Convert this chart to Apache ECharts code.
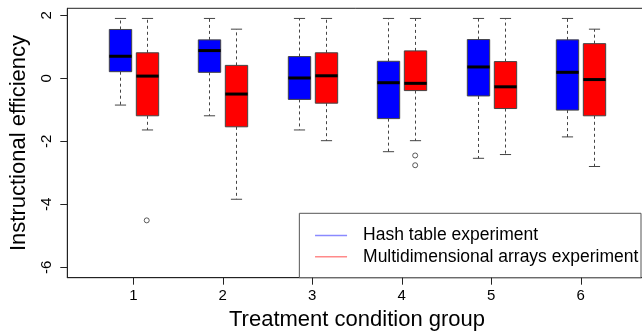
<!DOCTYPE html>
<html>
<head>
<meta charset="utf-8">
<script src="https://cdn.jsdelivr.net/npm/echarts@6/dist/echarts.min.js"></script>
<style>
html,body{margin:0;padding:0;background:#fff;}
#chart{width:642px;height:335px;}
</style>
</head>
<body>
<div id="chart"></div>
<script>
// ---- data ----
const groups = [1, 2, 3, 4, 5, 6];
const seriesNames = ['Hash table experiment', 'Multidimensional arrays experiment'];
// [lower whisker, Q1, median, Q3, upper whisker] per group
const hashStats = [
  [-0.85, 0.21, 0.70, 1.55, 1.90],
  [-1.19, 0.19, 0.88, 1.22, 1.90],
  [-1.64, -0.67, 0.01, 0.69, 1.90],
  [-2.33, -1.28, -0.14, 0.54, 1.90],
  [-2.54, -0.56, 0.36, 1.23, 1.90],
  [-1.86, -1.01, 0.19, 1.22, 1.90]
];
const arraysStats = [
  [-1.64, -1.19, 0.07, 0.81, 1.90],
  [-3.84, -1.54, -0.50, 0.41, 1.56],
  [-1.98, -0.79, 0.08, 0.81, 1.90],
  [-1.98, -0.39, -0.16, 0.87, 1.90],
  [-2.42, -0.96, -0.27, 0.53, 1.90],
  [-2.80, -1.19, -0.04, 1.10, 1.56]
];
// outliers: [group, value]
const hashOutliers = [];
const arraysOutliers = [[1, -4.51], [4, -2.45], [4, -2.76]];
const yTicks = [-6, -4, -2, 0, 2];
const xTicks = [1, 2, 3, 4, 5, 6];

// ---- layout / style constants ----
const DODGE = 0.15;
const BOX_W = 0.25;
const X_MIN = 0.2624, X_MAX = 6.7376;
const Y_MIN = -6.330, Y_MAX = 2.2222;
const TICK_LEN = 7;
const FONT = '"Liberation Sans", Arial, Helvetica, sans-serif';

function toItems(stats, off) {
  return stats.map((s, i) => [groups[i] + off].concat(s));
}
function toOut(list, off) {
  return list.map(p => [p[0] + off, p[1]]);
}

function renderBox(fill) {
  return function (params, api) {
    const x = api.value(0);
    const lo = api.coord([x, api.value(1)]);
    const q1 = api.coord([x, api.value(2)]);
    const md = api.coord([x, api.value(3)]);
    const q3 = api.coord([x, api.value(4)]);
    const hi = api.coord([x, api.value(5)]);
    const hw = api.size([BOX_W / 2, 0])[0];
    const cw = hw / 2;
    const cx = Math.round(md[0]) + 0.5;
    const dashStyle = { stroke: '#444', lineWidth: 1, lineDash: [3, 3] };
    const solid = { stroke: '#444', lineWidth: 1 };
    return {
      type: 'group',
      children: [
        { type: 'line', shape: { x1: cx, y1: q3[1], x2: cx, y2: hi[1] }, style: dashStyle },
        { type: 'line', shape: { x1: cx, y1: q1[1], x2: cx, y2: lo[1] }, style: dashStyle },
        { type: 'line', shape: { x1: cx - cw, y1: hi[1], x2: cx + cw, y2: hi[1] }, style: solid },
        { type: 'line', shape: { x1: cx - cw, y1: lo[1], x2: cx + cw, y2: lo[1] }, style: solid },
        { type: 'rect', shape: { x: cx - hw, y: q3[1], width: hw * 2, height: q1[1] - q3[1] },
          style: { fill: fill, stroke: '#444', lineWidth: 1 } },
        { type: 'line', shape: { x1: cx - hw, y1: md[1], x2: cx + hw, y2: md[1] },
          style: { stroke: '#000', lineWidth: 3 } }
      ]
    };
  };
}

// axis tick marks drawn through the axes' own scales
function renderXTick(params, api) {
  const p = api.coord([api.value(0), Y_MIN]);
  const x = Math.round(p[0]) + 0.5;
  return { type: 'line', shape: { x1: x, y1: p[1], x2: x, y2: p[1] + TICK_LEN },
           style: { stroke: '#222', lineWidth: 1 } };
}
function renderYTick(params, api) {
  const p = api.coord([X_MIN, api.value(1)]);
  const y = Math.round(p[1]) + 0.5;
  return { type: 'line', shape: { x1: p[0] - TICK_LEN, y1: y, x2: p[0], y2: y },
           style: { stroke: '#222', lineWidth: 1 } };
}

const chart = echarts.init(document.getElementById('chart'), null, { renderer: 'canvas' });
chart.setOption({
  animation: false,
  backgroundColor: '#fff',
  textStyle: { fontFamily: FONT },
  grid: {
    left: 67.3, right: -4.7, top: 8.3, bottom: 57.3,
    show: true, borderColor: '#222', borderWidth: 1, backgroundColor: 'transparent',
    outerBoundsMode: 'none'
  },
  legend: {
    orient: 'vertical',
    right: 1, bottom: 57.3,
    backgroundColor: '#fff',
    borderColor: '#555', borderWidth: 1, borderRadius: 0,
    padding: [13.2, 2.7, 12, 15.7],
    itemGap: 3.2,
    itemWidth: 32, itemHeight: 1.5,
    icon: 'rect',
    textStyle: { fontFamily: FONT, fontSize: 17.5, color: '#000', padding: [0, 0, 0, 11] },
    data: [
      { name: seriesNames[0], icon: 'rect', itemStyle: { color: '#8a8aff', borderWidth: 0 } },
      { name: seriesNames[1], icon: 'rect', itemStyle: { color: '#ff8a8a', borderWidth: 0 } }
    ]
  },
  xAxis: {
    type: 'value', min: X_MIN, max: X_MAX, position: 'bottom',
    name: 'Treatment condition group', nameLocation: 'middle', nameGap: 30,
    nameTextStyle: { fontSize: 22, color: '#000', fontFamily: FONT },
    axisLine: { show: true, onZero: false, lineStyle: { color: '#222', width: 1 } },
    splitLine: { show: false },
    axisTick: { show: false },
    axisLabel: { fontSize: 15, color: '#000', margin: 11, customValues: xTicks, fontFamily: FONT }
  },
  yAxis: {
    type: 'value', min: Y_MIN, max: Y_MAX, position: 'left',
    name: 'Instructional efficiency', nameLocation: 'middle', nameGap: 37, nameRotate: 90,
    nameTextStyle: { fontSize: 22, color: '#000', fontFamily: FONT },
    axisLine: { show: true, onZero: false, lineStyle: { color: '#222', width: 1 } },
    splitLine: { show: false },
    axisTick: { show: false },
    axisLabel: { fontSize: 15, color: '#000', margin: 13, rotate: 90, customValues: yTicks, fontFamily: FONT }
  },
  series: [
    { name: seriesNames[0], type: 'custom', renderItem: renderBox('#0000ff'),
      itemStyle: { color: '#0000ff' },
      encode: { x: 0, y: [1, 2, 3, 4, 5] }, data: toItems(hashStats, -DODGE), z: 3 },
    { name: seriesNames[1], type: 'custom', renderItem: renderBox('#ff0000'),
      itemStyle: { color: '#ff0000' },
      encode: { x: 0, y: [1, 2, 3, 4, 5] }, data: toItems(arraysStats, DODGE), z: 3 },
    { name: 'out1', type: 'scatter', symbol: 'circle', symbolSize: 5,
      itemStyle: { color: '#fff', borderColor: '#333', borderWidth: 1 },
      data: toOut(hashOutliers, -DODGE), z: 4 },
    { name: 'out2', type: 'scatter', symbol: 'circle', symbolSize: 5,
      itemStyle: { color: '#fff', borderColor: '#333', borderWidth: 1 },
      data: toOut(arraysOutliers, DODGE), z: 4 },
    { name: 'xticks', type: 'custom', renderItem: renderXTick, clip: false, silent: true,
      encode: { x: 0, y: 1 }, data: xTicks.map(v => [v, Y_MIN]), z: 5 },
    { name: 'yticks', type: 'custom', renderItem: renderYTick, clip: false, silent: true,
      encode: { x: 0, y: 1 }, data: yTicks.map(v => [X_MIN, v]), z: 5 }
  ]
});
</script>
</body>
</html>
